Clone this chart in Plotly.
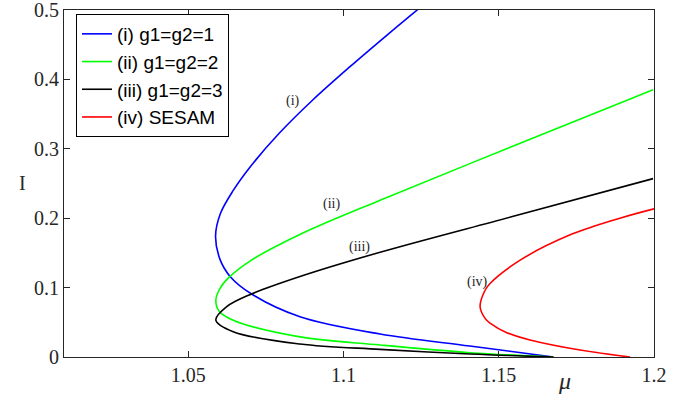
import plotly.graph_objects as go

# ---- data (mu, I) ----
blue_mu = [1.1240, 1.1147, 1.1021, 1.0901, 1.0793, 1.0700, 1.0645, 1.0604, 1.0588, 1.0603, 1.0637, 1.0704, 1.086, 1.1118, 1.1407, 1.1676]
blue_I = [0.501, 0.4664, 0.4183, 0.3703, 0.3223, 0.2742, 0.240, 0.207, 0.174, 0.140, 0.115, 0.0908, 0.058, 0.0331, 0.0158, 0.0]

green_mu = [1.1997, 1.1553, 1.1118, 1.0866, 1.0705, 1.0632, 1.0604, 1.0589, 1.0600, 1.0645, 1.086, 1.1118, 1.1407, 1.1676]
green_I = [0.385, 0.305, 0.226, 0.178, 0.140, 0.115, 0.100, 0.082, 0.066, 0.053, 0.029, 0.0173, 0.0062, 0.0]

black_mu = [1.1997, 1.1541, 1.1118, 1.086, 1.0704, 1.0624, 1.0589, 1.0645, 1.086, 1.1118, 1.1407, 1.1676]
black_I = [0.257, 0.202, 0.151, 0.116, 0.0908, 0.0725, 0.0533, 0.0365, 0.0187, 0.011, 0.0043, 0.0]

red_mu = [1.2, 1.189, 1.173, 1.1569, 1.1472, 1.1456, 1.1440, 1.1456, 1.1472, 1.1526, 1.1601, 1.1762, 1.1923]
red_I = [0.2135, 0.200, 0.176, 0.1395, 0.106, 0.0962, 0.0725, 0.0557, 0.0488, 0.035, 0.0245, 0.010, 0.0]

series_names = ["(i) g1=g2=1", "(ii) g1=g2=2", "(iii) g1=g2=3", "(iv) SESAM"]
series_colors = ["#0000ff", "#00ff00", "#000000", "#ff0000"]

label_texts = ["(i)", "(ii)", "(iii)", "(iv)"]
label_mu = [1.0838, 1.0963, 1.1050, 1.1430]
label_I = [0.369, 0.221, 0.159, 0.108]

x_ticks = [1.05, 1.1, 1.15, 1.2]
y_ticks = [0, 0.1, 0.2, 0.3, 0.4, 0.5]

fig = go.Figure()
for name, color, xs, ys in zip(series_names, series_colors,
                               [blue_mu, green_mu, black_mu, red_mu],
                               [blue_I, green_I, black_I, red_I]):
    fig.add_trace(go.Scatter(x=xs, y=ys, mode="lines", name=name,
                             line=dict(color=color, width=1.6, shape="spline", smoothing=1.0)))

for t, xm, yi in zip(label_texts, label_mu, label_I):
    fig.add_annotation(x=xm, y=yi, text=t, showarrow=False,
                       font=dict(family="Liberation Serif", size=14, color="#262626"))

axis_common = dict(showline=True, linecolor="#262626", linewidth=1, mirror="ticks",
                   ticks="inside", ticklen=6, tickcolor="#262626", showgrid=False,
                   zeroline=False, ticklabeloverflow="allow", automargin=False,
                   tickfont=dict(family="Liberation Serif", size=20, color="#262626"))

fig.update_xaxes(range=[1.01, 1.2], tickvals=x_ticks, ticktext=["1.05", "1.1", "1.15", "1.2"],
                 **axis_common)
fig.update_yaxes(range=[0, 0.5], tickvals=y_ticks, ticktext=["0", "0.1", "0.2", "0.3", "0.4", "0.5"],
                 **axis_common)

fig.add_annotation(xref="paper", yref="paper", x=(573 - 64) / 590, y=(357 - 396) / 347,
                   text="<i>μ</i>", showarrow=False,
                   font=dict(family="Liberation Serif", size=24, color="#262626"))
fig.add_annotation(xref="paper", yref="paper", x=(17 - 64) / 590, y=(357 - 183) / 347,
                   text="I", showarrow=False,
                   font=dict(family="Liberation Serif", size=20, color="#262626"))

fig.update_layout(
    width=687, height=403,
    margin=dict(l=64, r=33, t=10, b=46, autoexpand=False),
    plot_bgcolor="white", paper_bgcolor="white",
    showlegend=True,
    legend=dict(x=(76 - 64) / 590, y=(357 - 14) / 347, xanchor="left", yanchor="top",
                bordercolor="#000000", borderwidth=1, bgcolor="white",
                font=dict(family="Liberation Sans", size=19, color="#000000"),
                itemwidth=30, tracegroupgap=0),
)

fig.write_html("out.html")
